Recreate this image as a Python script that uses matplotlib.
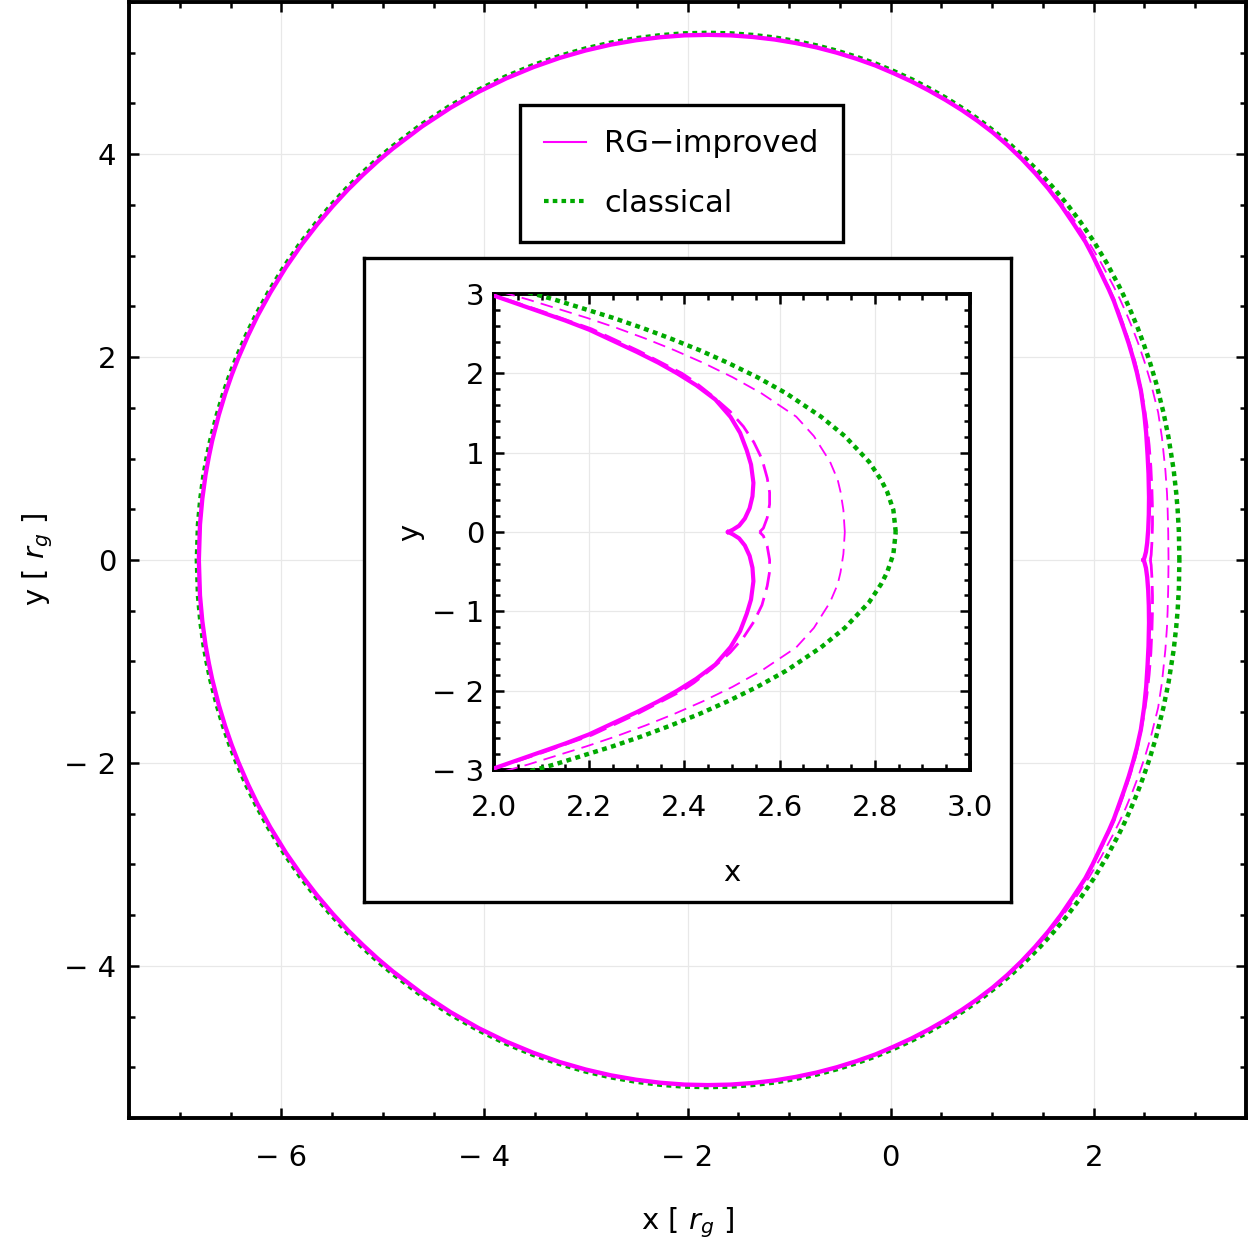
import numpy as np
import matplotlib
matplotlib.use('Agg')
import matplotlib.pyplot as plt
from matplotlib.lines import Line2D
from matplotlib.ticker import MultipleLocator, FixedLocator

# upper halves of the shadow outlines, right edge -> left edge
classical_x = [2.844, 2.839, 2.826, 2.813, 2.788, 2.737, 2.687, 2.614, 2.553, 2.492,
               2.432, 2.371, 2.311, 2.250, 2.127, 2.003, 1.875, 1.744, 1.610, 1.473,
               1.331, 1.185, 1.035, 0.880, 0.721, 0.557, 0.388, 0.215, 0.036, -0.147,
               -0.336, -0.529, -0.728, -0.932, -1.141, -1.356, -1.575, -1.800, -2.030, -2.266,
               -2.506, -2.753, -3.004, -3.261, -3.523, -3.791, -4.064, -4.342, -4.626, -4.915,
               -5.062, -5.210, -5.360, -5.510, -5.662, -5.816, -5.971, -6.127, -6.253, -6.348,
               -6.444, -6.508, -6.572, -6.636, -6.701, -6.733, -6.766, -6.798, -6.821, -6.832]
classical_y = [0.000, 0.278, 0.507, 0.659, 0.885, 1.209, 1.454, 1.748, 1.952, 2.131,
               2.292, 2.439, 2.574, 2.700, 2.930, 3.137, 3.325, 3.500, 3.662, 3.813,
               3.956, 4.090, 4.215, 4.334, 4.445, 4.549, 4.645, 4.735, 4.817, 4.893,
               4.960, 5.020, 5.072, 5.115, 5.150, 5.175, 5.191, 5.196, 5.191, 5.173,
               5.143, 5.100, 5.042, 4.968, 4.877, 4.766, 4.633, 4.475, 4.289, 4.070,
               3.946, 3.810, 3.662, 3.499, 3.319, 3.120, 2.896, 2.642, 2.411, 2.215,
               1.994, 1.829, 1.643, 1.430, 1.175, 1.022, 0.840, 0.603, 0.350, 0.000]

# RG-improved, thick solid
rg_x = [2.492, 2.502, 2.515, 2.527, 2.537, 2.543, 2.545, 2.540, 2.531, 2.517,
        2.497, 2.465, 2.425, 2.385, 2.345, 2.300, 2.250, 2.200, 2.150, 2.100,
        2.045, 1.990, 1.918, 1.795, 1.676, 1.552, 1.423, 1.289, 1.150, 1.005,
        0.855, 0.701, 0.542, 0.376, 0.205, 0.031, -0.147, -0.336, -0.529, -0.728,
        -0.932, -1.141, -1.356, -1.575, -1.800, -2.030, -2.266, -2.506, -2.753, -3.004,
        -3.261, -3.520, -3.785, -4.056, -4.332, -4.614, -4.902, -5.048, -5.195, -5.344,
        -5.493, -5.645, -5.798, -5.953, -6.108, -6.234, -6.328, -6.424, -6.488, -6.552,
        -6.616, -6.681, -6.713, -6.746, -6.778, -6.801, -6.812]
rg_y = [0.000, 0.030, 0.080, 0.170, 0.300, 0.450, 0.620, 0.850, 1.030, 1.250,
        1.450, 1.670, 1.850, 2.000, 2.135, 2.270, 2.410, 2.550, 2.665, 2.770,
        2.885, 3.000, 3.137, 3.325, 3.500, 3.662, 3.813, 3.956, 4.090, 4.215,
        4.329, 4.435, 4.534, 4.628, 4.717, 4.797, 4.873, 4.940, 5.000, 5.052,
        5.095, 5.130, 5.155, 5.171, 5.176, 5.171, 5.153, 5.123, 5.080, 5.022,
        4.948, 4.857, 4.747, 4.615, 4.458, 4.273, 4.055, 3.932, 3.797, 3.650,
        3.488, 3.309, 3.111, 2.888, 2.636, 2.406, 2.211, 1.990, 1.825, 1.640,
        1.428, 1.174, 1.021, 0.840, 0.603, 0.350, 0.000]

# RG-improved, long dashes (right part; joins the solid one above y = 3)
rg_long_x = [2.558, 2.566, 2.574, 2.579, 2.579, 2.574, 2.563, 2.546, 2.524, 2.496,
             2.458, 2.420, 2.395, 2.350, 2.305, 2.255, 2.205, 2.153, 2.102, 2.047,
             1.992]
rg_long_y = [0.000, 0.050, 0.180, 0.350, 0.500, 0.680, 0.920, 1.130, 1.330, 1.520,
             1.720, 1.900, 2.000, 2.140, 2.280, 2.420, 2.560, 2.670, 2.780, 2.890,
             3.000]

# RG-improved, thin dashes (right part; joins the solid one above y = 4.6)
rg_thin_x = [2.737, 2.734, 2.728, 2.722, 2.706, 2.672, 2.635, 2.562, 2.501, 2.440,
             2.379, 2.318, 2.257, 2.195, 2.072, 1.950, 1.826, 1.700, 1.571, 1.440,
             1.302, 1.160, 1.014, 0.862, 0.706, 0.545]
rg_thin_y = [0.000, 0.278, 0.507, 0.659, 0.885, 1.209, 1.454, 1.748, 1.952, 2.131,
             2.292, 2.439, 2.574, 2.700, 2.930, 3.137, 3.325, 3.500, 3.662, 3.813,
             3.956, 4.090, 4.212, 4.330, 4.438, 4.537]

main_xticks = [-6, -4, -2, 0, 2]
main_xlabels = ['\u2212 6', '\u2212 4', '\u2212 2', '0', '2']
main_yticks = [-4, -2, 0, 2, 4]
main_ylabels = ['\u2212 4', '\u2212 2', '0', '2', '4']
ins_xticks = [2.0, 2.2, 2.4, 2.6, 2.8, 3.0]
ins_xlabels = ['2.0', '2.2', '2.4', '2.6', '2.8', '3.0']
ins_yticks = [-3, -2, -1, 0, 1, 2, 3]
ins_ylabels = ['\u2212 3', '\u2212 2', '\u2212 1', '0', '1', '2', '3']

MAG = '#ff00ff'
GRN = '#00aa00'
FS = 21


def closed(xs, ys):
	# mirror the upper half to get the whole outline
	xs = np.asarray(xs, float)
	ys = np.asarray(ys, float)
	return (np.concatenate([xs, xs[::-1][1:]]),
			np.concatenate([ys, -ys[::-1][1:]]))


cl = closed(classical_x, classical_y)
rg = closed(rg_x, rg_y)
rg_long = closed(rg_long_x + rg_x[22:], rg_long_y + rg_y[22:])
rg_thin = closed(rg_thin_x + rg_x[33:], rg_thin_y + rg_y[33:])


def draw_curves(a, lw_solid):
	a.plot(*cl, color=GRN, lw=3.2, dashes=(1.1, 1.0), solid_capstyle='butt', zorder=3)
	a.plot(*rg_thin, color=MAG, lw=1.3, dashes=(7, 4), zorder=4)
	a.plot(*rg_long, color=MAG, lw=2.0, dashes=(6.5, 3), zorder=4)
	a.plot(*rg, color=MAG, lw=lw_solid, zorder=5)


def style_axes(a, spine_w):
	for s in a.spines.values():
		s.set_linewidth(spine_w)
	a.tick_params(which='both', direction='in', top=True, right=True, width=1.8,
				  labelsize=FS, colors='black')
	a.tick_params(which='major', length=7)
	a.tick_params(which='minor', length=4)
	a.grid(True, which='major', color='#e8e8e8', lw=0.9, zorder=0)
	a.set_axisbelow(True)


fig = plt.figure(figsize=(12.5, 12.48), dpi=100)

# main plot
ax = fig.add_axes([0.1032, 0.1042, 0.8936, 0.8942])
draw_curves(ax, 3.1)
ax.set_xlim(-7.5, 3.5)
ax.set_ylim(-5.5, 5.5)
ax.xaxis.set_major_locator(FixedLocator(main_xticks))
ax.set_xticklabels(main_xlabels)
ax.yaxis.set_major_locator(FixedLocator(main_yticks))
ax.set_yticklabels(main_ylabels)
ax.xaxis.set_minor_locator(MultipleLocator(0.5))
ax.yaxis.set_minor_locator(MultipleLocator(0.5))
style_axes(ax, 2.8)
ax.tick_params(axis='x', which='major', pad=19)
ax.tick_params(axis='y', which='major', pad=9)
ax.set_xlabel('x [ $r_g$ ]', fontsize=FS, labelpad=24)
ax.set_ylabel('y [ $r_g$ ]', fontsize=FS, labelpad=7)

handles = [Line2D([], [], color=MAG, lw=1.5),
		   Line2D([], [], color=GRN, lw=3.0, dashes=(1.1, 1.0))]
leg = ax.legend(handles, ['RG\u2212improved', 'classical'], loc='upper left',
				bbox_to_anchor=(0.350, 0.9077), frameon=True, fancybox=False,
				edgecolor='black', framealpha=1, fontsize=22, handlelength=1.35,
				handletextpad=0.6, labelspacing=1.0, borderpad=0.8, borderaxespad=0)
leg.get_frame().set_linewidth(2.4)
leg.set_zorder(10)

# white box holding the inset
frame = fig.add_axes([0.2912, 0.2772, 0.5176, 0.5161])
frame.set_xticks([])
frame.set_yticks([])
frame.set_facecolor('white')
for s in frame.spines.values():
	s.set_linewidth(2.4)
frame.set_zorder(5)

# inset zoom on the right edge
ins = fig.add_axes([0.3952, 0.3830, 0.3808, 0.3814])
ins.set_zorder(6)
draw_curves(ins, 3.0)
ins.set_xlim(2.0, 3.0)
ins.set_ylim(-3, 3)
ins.xaxis.set_major_locator(FixedLocator(ins_xticks))
ins.set_xticklabels(ins_xlabels)
ins.yaxis.set_major_locator(FixedLocator(ins_yticks))
ins.set_yticklabels(ins_ylabels)
ins.xaxis.set_minor_locator(MultipleLocator(0.05))
ins.yaxis.set_minor_locator(MultipleLocator(0.2))
style_axes(ins, 2.8)
ins.tick_params(axis='x', which='major', pad=17)
ins.tick_params(axis='y', which='major', pad=7)
ins.set_xlabel('x', fontsize=FS, labelpad=27)
ins.set_ylabel('y', fontsize=FS, labelpad=6)

fig.savefig('out.png', dpi=100)
